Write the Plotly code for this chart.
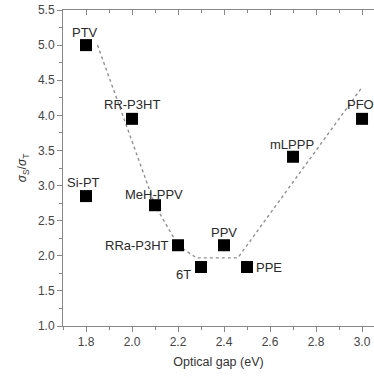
import plotly.graph_objects as go

names = ["PTV", "RR-P3HT", "Si-PT", "MeH-PPV", "RRa-P3HT", "6T", "PPV", "PPE", "mLPPP", "PFO"]
gap = [1.8, 2.0, 1.8, 2.1, 2.2, 2.3, 2.4, 2.5, 2.7, 3.0]
ratio = [5.0, 3.95, 2.85, 2.72, 2.15, 1.84, 2.15, 1.84, 3.41, 3.95]

guide_x = [1.85, 2.1, 2.2, 2.28, 2.46, 3.0]
guide_y = [5.0, 2.72, 2.15, 1.97, 1.97, 4.4]

x_ticks = [1.8, 2.0, 2.2, 2.4, 2.6, 2.8, 3.0]
y_ticks = [1.0, 1.5, 2.0, 2.5, 3.0, 3.5, 4.0, 4.5, 5.0, 5.5]

xr = [1.7, 3.052]
yr = [1.0, 5.5]

# label placement (style only): (xanchor, xshift, yshift) per label name
label_style = {
    "PTV": ("center", -1, 13),
    "RR-P3HT": ("center", 0, 14),
    "Si-PT": ("center", -3, 14),
    "MeH-PPV": ("center", -1, 11),
    "RRa-P3HT": ("right", -8, 0),
    "6T": ("right", -9, -7),
    "PPV": ("center", 0, 13),
    "PPE": ("left", 8, 0),
    "mLPPP": ("center", -1, 12),
    "PFO": ("right", 13, 14),
}

fig = go.Figure()
fig.add_trace(go.Scatter(x=guide_x, y=guide_y, mode="lines",
                         line=dict(color="#909090", width=1.4, dash="dot"),
                         hoverinfo="skip", showlegend=False))
fig.add_trace(go.Scatter(x=gap, y=ratio, mode="markers",
                         marker=dict(symbol="square", size=12, color="black"),
                         showlegend=False, cliponaxis=False))
fig.add_trace(go.Scatter(x=[xr[0]], y=[yr[0]], xaxis="x2", mode="markers",
                         marker=dict(opacity=0, size=1), showlegend=False, hoverinfo="skip"))

for n, gx, ry in zip(names, gap, ratio):
    xa, xs, ys = label_style[n]
    fig.add_annotation(x=gx, y=ry, text=n, showarrow=False, xanchor=xa, yanchor="middle",
                       xshift=xs, yshift=ys, borderpad=0,
                       font=dict(family="Liberation Sans, Arial", size=13, color="#2a2a2a"))

axis_font = dict(family="Liberation Sans, Arial", size=12, color="#444")
fig.update_layout(
    width=374, height=378,
    margin=dict(l=63, r=0, t=10, b=52),
    plot_bgcolor="white", paper_bgcolor="white",
    font=axis_font,
    xaxis=dict(range=xr, tickvals=x_ticks, ticktext=[f"{v:.1f}" for v in x_ticks],
               automargin=False,
               showgrid=False, zeroline=False, showline=True, linecolor="#888", linewidth=1,
               ticks="outside", ticklen=5, tickcolor="#888",
               minor=dict(dtick=0.1, tick0=1.7, ticks="outside", ticklen=3, tickcolor="#888"),
               title=dict(text="Optical gap (eV)", font=dict(size=12.5, color="#333"), standoff=8)),
    xaxis2=dict(range=xr, overlaying="x", side="top", tickvals=x_ticks, showticklabels=False,
                automargin=False,
                showgrid=False, zeroline=False, showline=True, linecolor="#888", linewidth=1,
                ticks="inside", ticklen=5, tickcolor="#888",
                minor=dict(dtick=0.1, tick0=1.7, ticks="inside", ticklen=3, tickcolor="#888")),
    yaxis=dict(range=yr, tickvals=y_ticks, ticktext=[f"{v:.1f}" for v in y_ticks],
               automargin=False,
               showgrid=False, zeroline=False, showline=True, linecolor="#888", linewidth=1,
               ticks="outside", ticklen=5, tickcolor="#888",
               minor=dict(dtick=0.25, tick0=1.0, ticks="outside", ticklen=3, tickcolor="#888"),
               title=dict(text="<i>σ</i><sub>S</sub>/<i>σ</i><sub>T</sub>",
                          font=dict(size=12, color="#333"), standoff=8)),
)

fig.write_html("out.html", config={"displayModeBar": False},
               post_script="document.body.style.margin='0px';")
